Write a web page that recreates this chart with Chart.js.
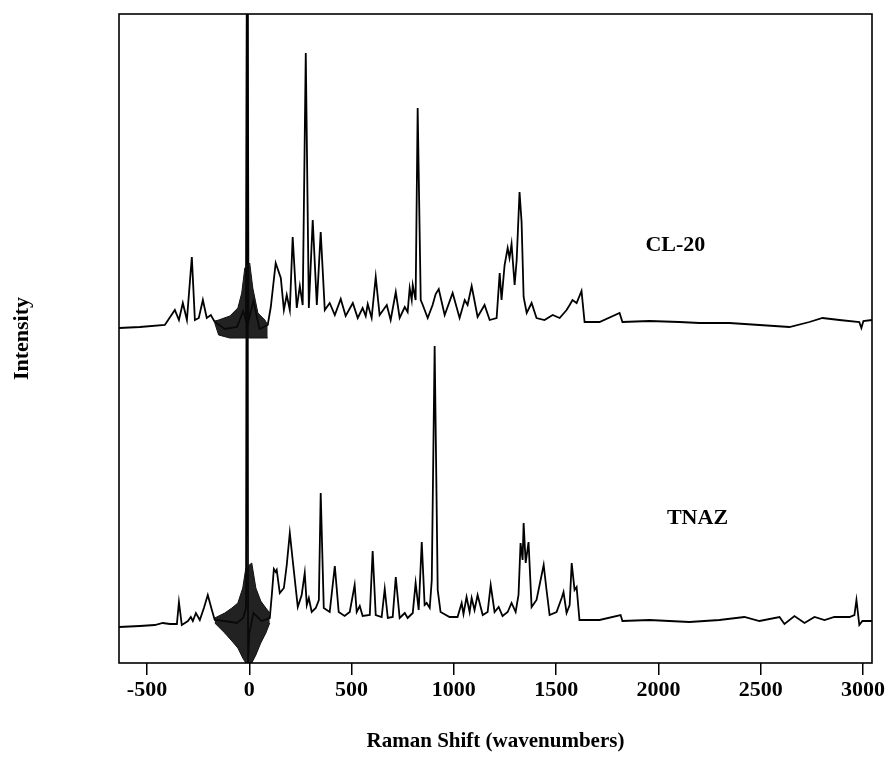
<!DOCTYPE html>
<html>
<head>
<meta charset="utf-8">
<title>Raman spectra CL-20 / TNAZ</title>
<script src="https://cdn.jsdelivr.net/npm/chart.js@4/dist/chart.umd.min.js"></script>
<style>
  html, body { margin: 0; padding: 0; background: #fff; }
</style>
</head>
<body>
<canvas id="ramanChart" width="891" height="780"></canvas>
<script>
// Raman shift (cm-1) and intensity (arbitrary units, offset traces)
const cl20Shift = [-637, -535, -413, -364, -344, -325, -305, -281, -266, -247, -227, -208, -188, -169,
  -120, -60, -30, -16, -10, -4, 20, 50, 90, 105, 129, 154, 169, 183, 198, 212, 232, 247, 261, 276,
  291, 310, 330, 349, 369, 393, 418, 447, 471, 506, 530, 554, 569, 579, 598, 618, 637, 672, 691,
  716, 735, 760, 774, 784, 794, 799, 813, 823, 838, 848, 872, 896, 911, 926, 955, 994, 1028, 1053,
  1067, 1087, 1116, 1150, 1175, 1209, 1224, 1233, 1248, 1263, 1272, 1282, 1297, 1307, 1321, 1331,
  1341, 1356, 1380, 1404, 1443, 1483, 1517, 1551, 1566, 1580, 1600, 1624, 1639, 1712, 1810, 1824,
  1956, 2102, 2200, 2347, 2494, 2640, 2738, 2802, 2885, 2982, 2992, 3002, 3044];
const cl20Intensity = [335, 336, 338, 353, 343, 360, 343, 406, 343, 345, 363, 345, 348, 341,
  334, 336, 352, 342, 900, 342, 362, 334, 338, 356, 400, 385, 353, 368, 353, 426, 355, 377, 358, 610,
  355, 443, 358, 431, 353, 360, 348, 364, 347, 360, 345, 355, 347, 359, 345, 386, 348, 358, 343,
  371, 345, 356, 351, 375, 363, 378, 363, 555, 363, 358, 345, 358, 369, 374, 348, 370, 345, 363,
  358, 377, 346, 358, 343, 345, 390, 363, 398, 415, 405, 419, 378, 403, 471, 441,
  366, 350, 360, 345, 343, 348, 345, 353, 358, 363, 360, 372, 341, 341, 350, 341,
  342, 341, 340, 340, 338, 336, 341, 345, 343, 341, 335, 342, 343];

const tnazShift = [-637, -535, -462, -423, -388, -354, -344, -330, -300, -286, -276, -261, -242, -222,
  -203, -183, -169, -120, -60, -30, -16, -10, -6, 0, 20, 60, 100, 110, 120, 129, 134, 149, 169, 183,
  198, 212, 237, 256, 271, 281, 291, 305, 325, 340, 349, 364, 393, 418, 437, 466, 491, 515, 525, 540,
  554, 589, 603, 618, 647, 662, 677, 701, 716, 735, 760, 774, 799, 813, 828, 843, 857, 867, 882, 892,
  906, 921, 935, 979, 1018, 1038, 1047, 1062, 1077, 1087, 1101, 1116, 1141, 1165, 1180, 1199, 1219,
  1238, 1263, 1282, 1302, 1316, 1326, 1336, 1341, 1351, 1365, 1380, 1404, 1424, 1439, 1453, 1468,
  1502, 1527, 1536, 1551, 1566, 1576, 1590, 1600, 1614, 1712, 1815, 1824, 1956, 2151, 2298, 2420,
  2494, 2592, 2616, 2665, 2714, 2763, 2812, 2860, 2934, 2958, 2968, 2982, 2997, 3044];
const tnazIntensity = [36, 37, 38, 40, 39, 39, 61, 38, 42, 46, 42, 50, 43, 55,
  68, 53, 43, 42, 40, 45, 55, 900, 0, 30, 50, 42, 45, 68, 94, 91, 93, 70, 75, 98,
  130, 103, 56, 68, 90, 58, 65, 51, 55, 63, 170, 55, 51, 97, 51, 47, 51, 78, 51, 57,
  47, 48, 112, 48, 46, 74, 45, 46, 86, 45, 50, 45, 50, 80, 53, 121, 58, 60, 55, 83,
  317, 73, 51, 46, 46, 60, 49, 66, 51, 65, 53, 68, 48, 51, 78, 51, 56,
  47, 51, 60, 51, 68, 120, 103, 140, 100, 121, 56, 63, 83, 98, 73, 48,
  51, 65, 71, 50, 58, 100, 73, 76, 43, 43, 48, 42, 43, 41, 43, 46,
  42, 46, 39, 47, 40, 46, 43, 46, 46, 48, 63, 38, 42, 42];

// dense noise band around the laser line (lower / upper envelopes)
const cl20BandShift = [-169, -150, -95, -56, -37, -22, 2, 17, 42, 76, 90];
const cl20BandLow = [340, 328, 325, 325, 325, 325, 325, 325, 325, 325, 325];
const cl20BandHigh = [342, 343, 347, 355, 370, 395, 400, 375, 350, 343, 338];
const tnazBandShift = [-169, -120, -85, -56, -32, -17, 12, 32, 56, 81, 100];
const tnazBandLow = [40, 30, 22, 15, 5, 0, 0, 8, 20, 30, 40];
const tnazBandHigh = [45, 50, 55, 60, 75, 95, 100, 75, 62, 55, 50];

const xTicks = [-500, 0, 500, 1000, 1500, 2000, 2500, 3000];
const traceNames = ["CL-20", "TNAZ"];
const nameShift = [2083, 2191];
const nameIntensity = [418, 145];

const toPoints = (xs, ys) => xs.map((x, i) => ({ x: x, y: ys[i] }));
const serif = "'Liberation Serif', 'Times New Roman', serif";

const framePlugin = {
  id: "frame",
  afterDatasetsDraw(chart) {
    const { ctx, chartArea } = chart;
    ctx.save();
    ctx.strokeStyle = "#000";
    ctx.lineWidth = 1.6;
    ctx.strokeRect(chartArea.left, chartArea.top,
      chartArea.right - chartArea.left, chartArea.bottom - chartArea.top);
    ctx.restore();
  },
};

const namePlugin = {
  id: "traceNames",
  afterDatasetsDraw(chart) {
    const { ctx, scales } = chart;
    ctx.save();
    ctx.fillStyle = "#000";
    ctx.font = "bold 22px " + serif;
    ctx.textAlign = "center";
    ctx.textBaseline = "middle";
    traceNames.forEach((name, i) => {
      ctx.fillText(name, scales.x.getPixelForValue(nameShift[i]),
        scales.y.getPixelForValue(nameIntensity[i]));
    });
    ctx.restore();
  },
};

const lineStyle = {
  borderColor: "#000",
  borderWidth: 1.8,
  pointRadius: 0,
  tension: 0,
  fill: false,
};

const bandStyle = {
  borderColor: "#111",
  backgroundColor: "rgba(10,10,10,0.9)",
  borderWidth: 1,
  pointRadius: 0,
  tension: 0,
};

const ctx = document.getElementById("ramanChart").getContext("2d");

new Chart(ctx, {
  type: "line",
  data: {
    datasets: [
      Object.assign({ label: "CL-20 band low", data: toPoints(cl20BandShift, cl20BandLow), fill: false }, bandStyle),
      Object.assign({ label: "CL-20 band high", data: toPoints(cl20BandShift, cl20BandHigh), fill: "-1" }, bandStyle),
      Object.assign({ label: "TNAZ band low", data: toPoints(tnazBandShift, tnazBandLow), fill: false }, bandStyle),
      Object.assign({ label: "TNAZ band high", data: toPoints(tnazBandShift, tnazBandHigh), fill: "-1" }, bandStyle),
      Object.assign({ label: "CL-20", data: toPoints(cl20Shift, cl20Intensity) }, lineStyle),
      Object.assign({ label: "TNAZ", data: toPoints(tnazShift, tnazIntensity) }, lineStyle),
    ],
  },
  options: {
    responsive: false,
    animation: false,
    devicePixelRatio: 1,
    layout: { padding: { top: 14, right: 19, left: 0, bottom: 0 } },
    plugins: {
      legend: { display: false },
      tooltip: { enabled: false },
    },
    scales: {
      x: {
        type: "linear",
        min: -637,
        max: 3044,
        afterBuildTicks: (scale) => {
          scale.ticks = xTicks.map((v) => ({ value: v }));
        },
        afterFit: (scale) => {
          scale.height = 117;
        },
        border: { display: false },
        grid: {
          drawOnChartArea: false,
          drawTicks: true,
          tickLength: 12,
          color: "#000",
          lineWidth: 1.5,
        },
        ticks: {
          color: "#000",
          padding: 2,
          maxRotation: 0,
          autoSkip: false,
          font: { family: serif, size: 22, weight: "bold" },
          callback: (value) => String(value),
        },
        title: {
          display: true,
          text: "Raman Shift (wavenumbers)",
          color: "#000",
          font: { family: serif, size: 21, weight: "bold" },
          padding: { top: 0, bottom: 26 },
        },
      },
      y: {
        min: 0,
        max: 649,
        afterFit: (scale) => {
          scale.width = 119;
        },
        border: { display: false },
        grid: { display: false },
        ticks: { display: false },
        title: {
          display: true,
          text: "Intensity",
          color: "#000",
          font: { family: serif, size: 22, weight: "bold" },
          padding: { top: 9, bottom: 0 },
        },
      },
    },
  },
  plugins: [framePlugin, namePlugin],
});
</script>
</body>
</html>
